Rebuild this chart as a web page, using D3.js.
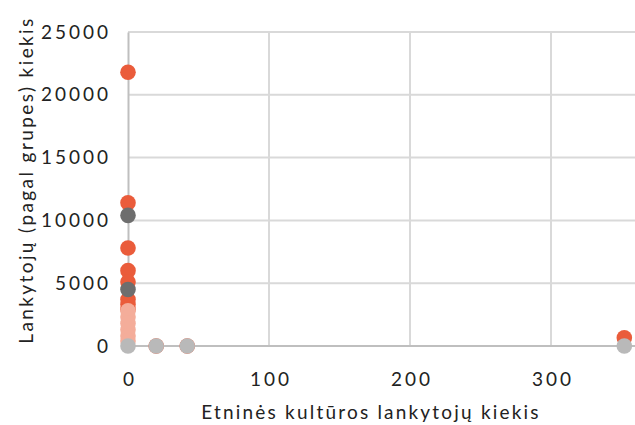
<!DOCTYPE html>
<html>
<head>
<meta charset="utf-8">
<script src="https://cdn.jsdelivr.net/npm/d3@7"></script>
<style>
  html, body { margin: 0; padding: 0; background: #fff; }
  svg { display: block; font-family: Lato, "Noto Sans", sans-serif; }
</style>
</head>
<body>
<svg id="chart" width="635" height="425"></svg>
<script>
// Visitor groups: x = ethnic-culture visitors, y = visitors by group
const seriesNames = ["A", "B", "C", "D"];
const seriesColors = ["#ea5c3b", "#6e6e6e", "#f4ad9a", "#b9b9b9"];

const seriesAX = [0, 0, 0, 0, 0, 0, 0, 0, 20, 42, 352];
const seriesAY = [21800, 11400, 7800, 6000, 5100, 3700, 3300, 2900, 0, 0, 660];

const seriesBX = [0, 0];
const seriesBY = [10400, 4500];

const seriesCX = [0, 0, 0, 0, 0, 0];
const seriesCY = [2800, 2300, 1800, 1300, 800, 400];

const seriesDX = [0, 20, 42, 352];
const seriesDY = [0, 0, 0, 0];

const xTicks = [0, 100, 200, 300];
const yTicks = [0, 5000, 10000, 15000, 20000, 25000];
const xTitle = "Etninės kultūros lankytojų kiekis";
const yTitle = "Lankytojų (pagal grupes) kiekis";

const seriesX = [seriesAX, seriesBX, seriesCX, seriesDX];
const seriesY = [seriesAY, seriesBY, seriesCY, seriesDY];

const svg = d3.select("#chart");
const margin = { left: 128, right: 0, top: 32, bottom: 79 };
const W = 635, H = 425;

const x = d3.scaleLinear().domain([0, 360]).range([margin.left, 635.6]);
const y = d3.scaleLinear().domain([0, 25000]).range([H - margin.bottom, margin.top]);

// gridlines
const grid = svg.append("g");
grid.selectAll("line.h").data(yTicks.filter(d => d > 0)).join("line")
  .attr("x1", x(0)).attr("x2", W)
  .attr("y1", d => y(d)).attr("y2", d => y(d))
  .attr("stroke", "#d9d9d9").attr("stroke-width", 2);
grid.selectAll("line.v").data(xTicks.filter(d => d > 0)).join("line")
  .attr("x1", d => x(d)).attr("x2", d => x(d))
  .attr("y1", y(25000)).attr("y2", y(0))
  .attr("stroke", "#d9d9d9").attr("stroke-width", 2);

// axes
const xAxis = svg.append("g").attr("transform", `translate(0,${y(0)})`)
  .call(d3.axisBottom(x).tickValues(xTicks).tickSize(0).tickPadding(27).tickFormat(d3.format("d")));
xAxis.select(".domain").attr("stroke", "#bfbfbf").attr("stroke-width", 2)
  .attr("d", `M${x(0)},0H${W}`);
xAxis.selectAll(".tick text").attr("dx", "1.5");

const yAxis = svg.append("g").attr("transform", `translate(${x(0)},0)`)
  .call(d3.axisLeft(y).tickValues(yTicks).tickSize(0).tickPadding(17).tickFormat(d3.format("d")));
yAxis.select(".domain").attr("stroke", "#bfbfbf").attr("stroke-width", 2);

svg.selectAll(".tick text").attr("font-size", 19).attr("fill", "#222")
  .attr("letter-spacing", 3)
  .attr("font-family", "Lato, sans-serif");

// axis titles
svg.append("text").attr("x", 371).attr("y", 419)
  .attr("text-anchor", "middle").attr("font-size", 19).attr("fill", "#222")
  .attr("letter-spacing", 2.2)
  .text(xTitle);
svg.append("text").attr("transform", "translate(33,180) rotate(-90)")
  .attr("text-anchor", "middle").attr("font-size", 19).attr("fill", "#222")
  .attr("letter-spacing", 2.4)
  .text(yTitle);

// points
seriesNames.forEach((name, i) => {
  const pts = seriesX[i].map((v, j) => [v, seriesY[i][j]]);
  svg.append("g").attr("class", "series-" + name)
    .selectAll("circle").data(pts).join("circle")
    .attr("cx", d => x(d[0])).attr("cy", d => y(d[1]))
    .attr("r", 7.8).attr("fill", seriesColors[i]);
});
</script>
</body>
</html>
